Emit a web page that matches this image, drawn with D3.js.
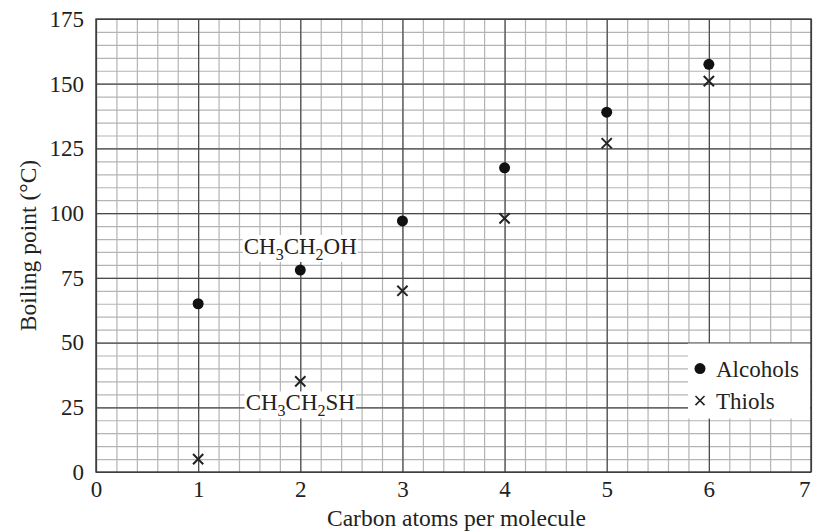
<!DOCTYPE html>
<html lang="en">
<head>
  <meta charset="UTF-8">
  <title>Boiling points of alcohols and thiols</title>
  <script src="https://d3js.org/d3.v7.min.js"></script>
  <style>
    body { margin: 0; background: #fff; }
    svg text { font-family: "Liberation Serif", "DejaVu Serif", serif; fill: #222; }
    .grid-minor line { stroke: #b4b4b4; stroke-width: 1.2; }
    .grid-major line { stroke: #4a4a4a; stroke-width: 1.2; }
    .grid-minor path, .grid-major path { display: none; }
    .axis path, .axis line { display: none; }
    .axis text { font-size: 23px; }
  </style>
</head>
<body>
  <div id="chart"></div>

  <script>
    // data
    const carbons = [1, 2, 3, 4, 5, 6];
    const alcohols = [65, 78, 97, 117.5, 139, 157.5];
    const thiols = [5, 35, 70, 98, 127, 151];
    const xTicks = [0, 1, 2, 3, 4, 5, 6, 7];
    const yTicks = [0, 25, 50, 75, 100, 125, 150, 175];

    const margin = { top: 19, right: 3, bottom: 60, left: 96 };
    const width = 814 - margin.left - margin.right;
    const height = 532 - margin.top - margin.bottom;

    const svg = d3.select("#chart").append("svg")
      .attr("width", 814)
      .attr("height", 532)
      .append("g")
      .attr("transform", `translate(${margin.left},${margin.top})`);

    const x = d3.scaleLinear().domain([0, 7]).range([0, width]);
    const y = d3.scaleLinear().domain([0, 175]).range([height, 0]);

    // minor grid (5 per unit / 5 per 25 degrees)
    svg.append("g").attr("class", "grid-minor")
      .attr("transform", `translate(0,${height})`)
      .call(d3.axisBottom(x).tickValues(d3.range(0, 35).map(i => i / 5)).tickSize(-height).tickFormat(""));
    svg.append("g").attr("class", "grid-minor")
      .call(d3.axisLeft(y).tickValues(d3.range(0, 35).map(i => i * 5)).tickSize(-width).tickFormat(""));

    // major grid
    svg.append("g").attr("class", "grid-major")
      .attr("transform", `translate(0,${height})`)
      .call(d3.axisBottom(x).tickValues(xTicks).tickSize(-height).tickFormat(""));
    svg.append("g").attr("class", "grid-major")
      .call(d3.axisLeft(y).tickValues(yTicks).tickSize(-width).tickFormat(""));

    // frame
    svg.append("rect")
      .attr("width", width).attr("height", height)
      .attr("fill", "none").attr("stroke", "#3a3a3a").attr("stroke-width", 1.4);

    // axes labels
    const xAxis = svg.append("g").attr("class", "axis")
      .attr("transform", `translate(0,${height})`)
      .call(d3.axisBottom(x).tickValues(xTicks).tickSize(0).tickPadding(9).tickFormat(d3.format("d")));
    // last label sits against the right edge
    xAxis.selectAll(".tick text").filter(d => d === 7).attr("text-anchor", "end").attr("dx", -1);

    svg.append("g").attr("class", "axis")
      .call(d3.axisLeft(y).tickValues(yTicks).tickSize(0).tickPadding(12).tickFormat(d3.format("d")));

    svg.append("text")
      .attr("x", width / 2 + 3)
      .attr("y", height + 54)
      .attr("text-anchor", "middle")
      .style("font-size", "23.5px")
      .text("Carbon atoms per molecule");

    svg.append("text")
      .attr("transform", "rotate(-90)")
      .attr("x", -height / 2)
      .attr("y", -60)
      .attr("text-anchor", "middle")
      .style("font-size", "23.5px")
      .text("Boiling point (°C)");

    // annotations with white backing
    function formula(parts, cx, cy) {
      const g = svg.append("g");
      const bg = g.append("rect").attr("fill", "#fff");
      const t = g.append("text")
        .attr("x", cx).attr("y", cy)
        .attr("text-anchor", "middle")
        .style("font-size", "23px");
      let down = false;
      parts.forEach(p => {
        if (p.sub) {
          t.append("tspan").attr("dy", 6).style("font-size", "16px").text(p.sub);
          down = true;
        } else {
          t.append("tspan").attr("dy", down ? -6 : 0).text(p.txt);
          down = false;
        }
      });
      const bb = t.node().getBBox();
      bg.attr("x", bb.x - 1).attr("y", bb.y + 1).attr("width", bb.width + 2).attr("height", bb.height - 2);
    }
    formula([{ txt: "CH" }, { sub: "3" }, { txt: "CH" }, { sub: "2" }, { txt: "OH" }], x(2), y(80) - 11);
    formula([{ txt: "CH" }, { sub: "3" }, { txt: "CH" }, { sub: "2" }, { txt: "SH" }], x(2), y(35) + 29);

    // points
    svg.selectAll(".alc")
      .data(carbons)
      .enter().append("circle")
      .attr("class", "alc")
      .attr("cx", d => x(d))
      .attr("cy", (d, i) => y(alcohols[i]))
      .attr("r", 5.5)
      .attr("fill", "#111");

    const cross = d3.symbol().type(d3.symbolX).size(70);
    svg.selectAll(".thi")
      .data(carbons)
      .enter().append("path")
      .attr("class", "thi")
      .attr("transform", (d, i) => `translate(${x(d)},${y(thiols[i])})`)
      .attr("d", cross)
      .attr("fill", "none")
      .attr("stroke", "#222")
      .attr("stroke-width", 2);

    // legend
    const lg = svg.append("g").attr("transform", `translate(${width - 123},${y(50) + 1})`);
    lg.append("rect").attr("width", 122).attr("height", 75).attr("fill", "#fff");
    lg.append("circle").attr("cx", 12).attr("cy", 25).attr("r", 5.5).attr("fill", "#111");
    lg.append("text").attr("x", 28).attr("y", 33).style("font-size", "23px").text("Alcohols");
    lg.append("path").attr("transform", "translate(12,57)").attr("d", d3.symbol().type(d3.symbolX).size(55))
      .attr("fill", "none").attr("stroke", "#222").attr("stroke-width", 1.6);
    lg.append("text").attr("x", 28).attr("y", 65).style("font-size", "23px").text("Thiols");
  </script>
</body>
</html>
